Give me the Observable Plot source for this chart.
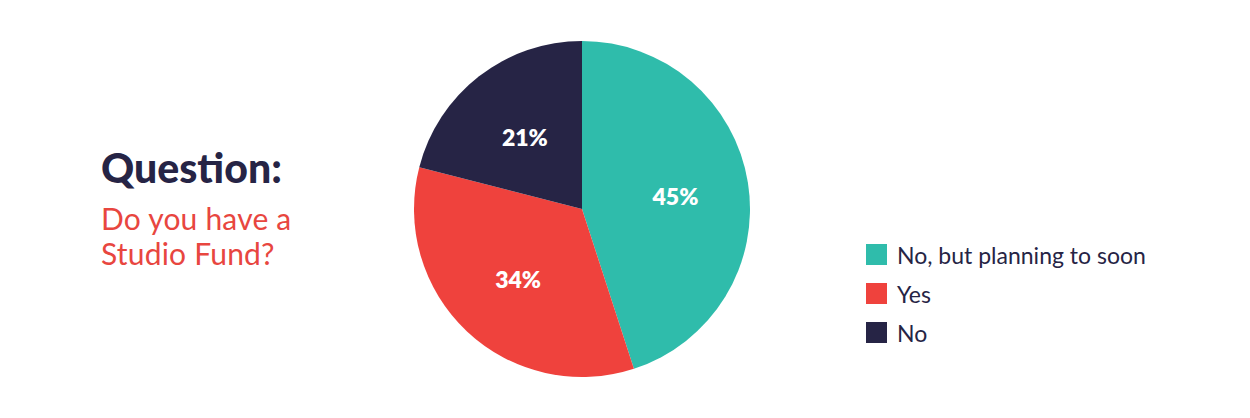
<!DOCTYPE html>
<html>
<head>
<meta charset="utf-8">
<script src="https://cdn.jsdelivr.net/npm/d3@7"></script>
<script src="https://cdn.jsdelivr.net/npm/@observablehq/plot@0.6"></script>
<style>
  html, body { margin: 0; padding: 0; background: #fff; }
  #wrap { position: relative; width: 1250px; height: 418px; overflow: hidden; font-family: Lato, "Noto Sans", sans-serif; }
  #chart { position: absolute; left: 0; top: 0; }
  #title { position: absolute; left: 101px; top: 144px; }
  #title .q { font-size: 41px; font-weight: 900; color: #262445; line-height: 48px; }
  #title .s { font-size: 30px; font-weight: 400; color: #e8463f; line-height: 35px; margin-top: 9px; letter-spacing: 0.2px; }
  #legend { position: absolute; left: 866px; top: 235px; }
  .item { display: flex; align-items: center; height: 39px; }
  .sw { width: 21px; height: 21px; margin-right: 10px; }
  .lab { font-size: 23px; color: #262445; }
</style>
</head>
<body>
<div id="wrap">
  <div id="chart"></div>
  <div id="title"><div class="q">Question:</div><div class="s"><div>Do you have a</div><div>Studio Fund?</div></div></div>
  <div id="legend"></div>
</div>
<script>
const categories = ["No, but planning to soon", "Yes", "No"];
const values = [45, 34, 21];
const labels = ["45%", "34%", "21%"];
const colors = ["#2fbcab", "#ef423d", "#262445"];

const data = categories.map((c, i) => ({category: c, value: values[i], label: labels[i], color: colors[i]}));
const arcs = d3.pie().sort(null).value(d => d.value)(data);
const labelR = 0.56;
const labelData = arcs.map(a => {
  const m = (a.startAngle + a.endAngle) / 2;
  return {label: a.data.label, x: Math.sin(m) * labelR, y: -Math.cos(m) * labelR};
});

function pieMark(index, scales) {
  const cx = scales.x(0), cy = scales.y(0);
  const r = scales.x(1) - scales.x(0);
  const arc = d3.arc().innerRadius(0).outerRadius(r);
  const g = d3.create("svg:g").attr("transform", `translate(${cx},${cy})`);
  g.selectAll("path").data(arcs).join("path")
    .attr("d", arc)
    .attr("fill", d => d.data.color);
  return g.node();
}

const chart = Plot.plot({
  width: 1250,
  height: 418,
  margin: 0,
  x: {domain: [-1, 1], range: [414, 750], axis: null},
  y: {domain: [-1, 1], range: [41, 377], axis: null},
  style: {background: "transparent"},
  marks: [
    pieMark,
    Plot.text(labelData, {x: "x", y: "y", text: "label", dy: 3, fill: "white", fontSize: 23, fontWeight: 800, fontFamily: "Lato, 'Noto Sans', sans-serif"})
  ]
});
document.getElementById("chart").appendChild(chart);

const legend = d3.select("#legend");
data.forEach(d => {
  const it = legend.append("div").attr("class", "item");
  it.append("div").attr("class", "sw").style("background", d.color);
  it.append("div").attr("class", "lab").text(d.category);
});
</script>
</body>
</html>
